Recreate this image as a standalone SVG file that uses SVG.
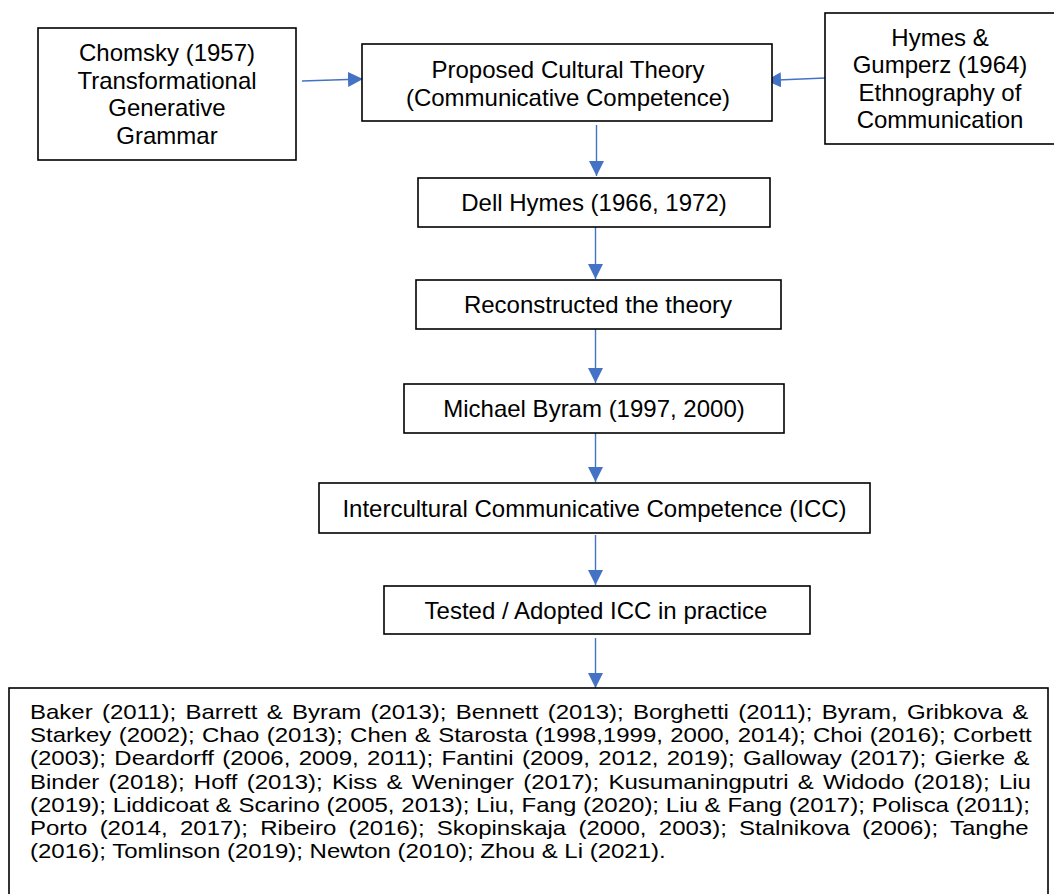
<svg xmlns="http://www.w3.org/2000/svg" width="1054" height="894" viewBox="0 0 1054 894">
  <style>
    .box { fill: #ffffff; stroke: #000000; stroke-width: 1.6; }
    .lbl { font-family: "Liberation Sans", Arial, sans-serif; font-size: 24px; fill: #000000; text-anchor: middle; }
    .refs { font-family: "Liberation Sans", Arial, sans-serif; font-size: 24px; fill: #000000; }
    .conn { fill: none; stroke: #4472C4; stroke-width: 1.4; marker-end: url(#head); }
  </style>
  <defs>
    <marker id="head" markerUnits="userSpaceOnUse" markerWidth="15" markerHeight="15" refX="15" refY="7.5" orient="auto">
      <path d="M0,0 L15,7.5 L0,15 Z" fill="#4472C4"/>
    </marker>
  </defs>
  <rect width="1054" height="894" fill="#ffffff"/>

  <!-- connectors -->
  <g id="connectors">
    <path class="conn" d="M302,81 L363,79"/>
    <path class="conn" d="M825,78 L766,80.5"/>
    <path class="conn" d="M596.5,125 L596.5,176"/>
    <path class="conn" d="M595.5,227 L595.5,279"/>
    <path class="conn" d="M595.5,329 L595.5,383"/>
    <path class="conn" d="M595.5,433 L595.5,482"/>
    <path class="conn" d="M595.5,535 L595.5,585"/>
    <path class="conn" d="M595.5,638 L595.5,688"/>
  </g>

  <g id="chomsky">
    <rect class="box" x="38" y="28" width="258" height="132"/>
    <text class="lbl" x="167" y="61">Chomsky (1957)</text>
    <text class="lbl" x="167" y="88.5">Transformational</text>
    <text class="lbl" x="167" y="116">Generative</text>
    <text class="lbl" x="167" y="143.5">Grammar</text>
  </g>

  <g id="proposed">
    <rect class="box" x="362" y="44" width="410" height="77"/>
    <text class="lbl" x="568" y="78">Proposed Cultural Theory</text>
    <text class="lbl" x="568" y="105.5">(Communicative Competence)</text>
  </g>

  <g id="hymes-gumperz">
    <rect class="box" x="825" y="13" width="240" height="131"/>
    <text class="lbl" x="940" y="45.5">Hymes &amp;</text>
    <text class="lbl" x="940" y="73">Gumperz (1964)</text>
    <text class="lbl" x="940" y="100.5">Ethnography of</text>
    <text class="lbl" x="940" y="128">Communication</text>
  </g>

  <g id="dell-hymes">
    <rect class="box" x="418" y="178" width="352" height="49"/>
    <text class="lbl" x="594" y="211">Dell Hymes (1966, 1972)</text>
  </g>

  <g id="reconstructed">
    <rect class="box" x="416" y="280" width="365" height="49"/>
    <text class="lbl" x="598" y="313">Reconstructed the theory</text>
  </g>

  <g id="byram">
    <rect class="box" x="404" y="384" width="380" height="49"/>
    <text class="lbl" x="594" y="417">Michael Byram (1997, 2000)</text>
  </g>

  <g id="icc">
    <rect class="box" x="319" y="483" width="551" height="50"/>
    <text class="lbl" x="594.5" y="517">Intercultural Communicative Competence (ICC)</text>
  </g>

  <g id="tested">
    <rect class="box" x="384" y="586" width="426" height="48"/>
    <text class="lbl" x="596" y="619">Tested / Adopted ICC in practice</text>
  </g>

  <!-- justified reference list; glyphs are set slightly condensed in height -->
  <g id="studies">
    <rect class="box" x="9" y="688" width="1039" height="220"/>
    <text class="refs" transform="translate(30,719) scale(1,0.86)" word-spacing="2.58">Baker (2011); Barrett &amp; Byram (2013); Bennett (2013); Borghetti (2011); Byram, Gribkova &amp;</text>
    <text class="refs" transform="translate(30,742.2) scale(1,0.86)" word-spacing="0.68">Starkey (2002); Chao (2013); Chen &amp; Starosta (1998,1999, 2000, 2014); Choi (2016); Corbett</text>
    <text class="refs" transform="translate(30,765.4) scale(1,0.86)" word-spacing="1.68">(2003); Deardorff (2006, 2009, 2011); Fantini (2009, 2012, 2019); Galloway (2017); Gierke &amp;</text>
    <text class="refs" transform="translate(30,788.6) scale(1,0.86)" word-spacing="2.58">Binder (2018); Hoff (2013); Kiss &amp; Weninger (2017); Kusumaningputri &amp; Widodo (2018); Liu</text>
    <text class="refs" transform="translate(30,811.8) scale(1,0.86)" word-spacing="0.11">(2019); Liddicoat &amp; Scarino (2005, 2013); Liu, Fang (2020); Liu &amp; Fang (2017); Polisca (2011);</text>
    <text class="refs" transform="translate(30,835) scale(1,0.86)" word-spacing="5.62">Porto (2014, 2017); Ribeiro (2016); Skopinskaja (2000, 2003); Stalnikova (2006); Tanghe</text>
    <text class="refs" transform="translate(30,858.2) scale(1,0.86)">(2016); Tomlinson (2019); Newton (2010); Zhou &amp; Li (2021).</text>
  </g>
</svg>
